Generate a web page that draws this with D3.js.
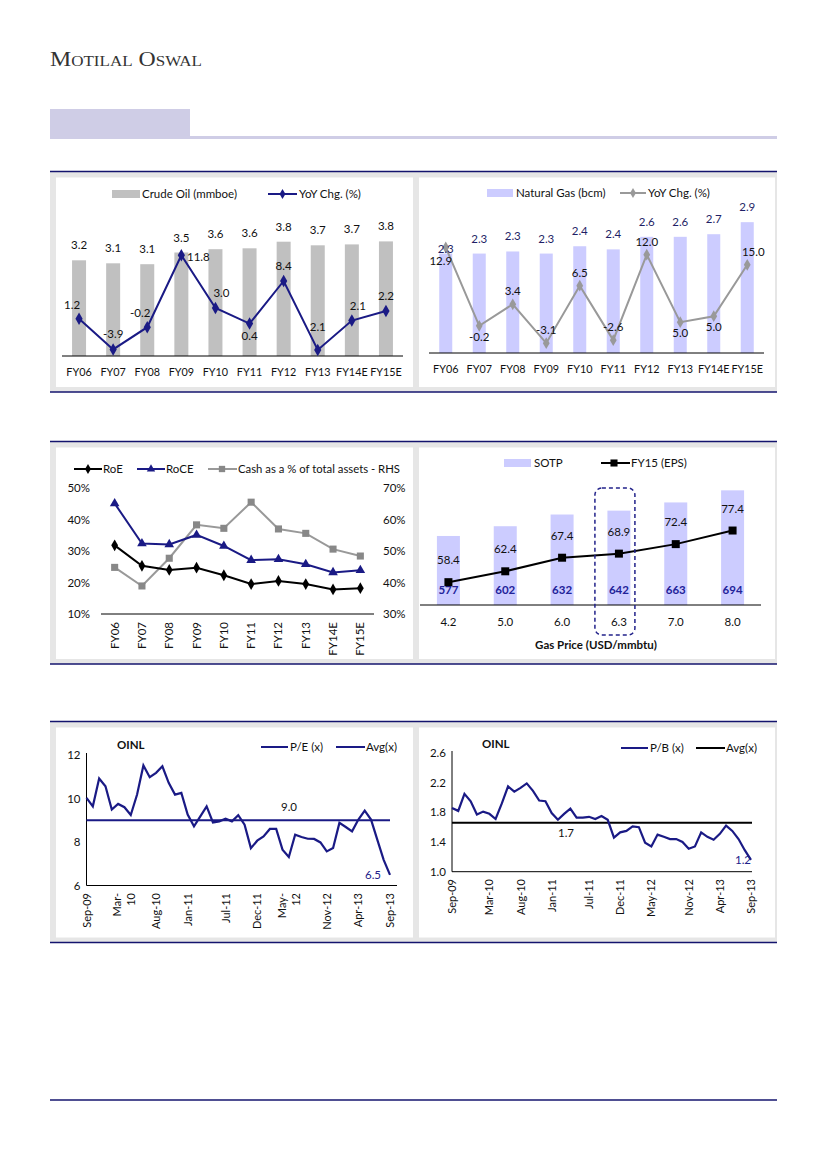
<!DOCTYPE html>
<html><head><meta charset="utf-8">
<script src="https://cdn.jsdelivr.net/npm/d3@7"></script>
<style>
body{margin:0;background:#fff}
svg{display:block}
text{font-family:Lato,"Open Sans",sans-serif;fill:#111}
</style>
</head><body>
<svg id="c" width="826" height="1169"></svg>
<script>
// ---------------- DATA ----------------
const fyCats = ["FY06","FY07","FY08","FY09","FY10","FY11","FY12","FY13","FY14E","FY15E"];
const crudeOil = [3.19,3.09,3.06,3.45,3.56,3.59,3.81,3.69,3.72,3.82];
const crudeYoY = [1.2,-3.9,-0.2,11.8,3.0,0.4,7.5,-4.0,0.9,2.5];
const crudeYoYLabels = ["1.2","-3.9","-0.2","11.8","3.0","0.4","8.4","2.1","2.1","2.2"];
const crudeYoYPlace = ["al","a","al","r","ar","b","a","a2","ar","a"];

const gasProd = [2.30,2.30,2.34,2.30,2.44,2.38,2.62,2.62,2.67,2.90];
const gasYoY = [12.9,-0.2,3.4,-3.1,6.5,-2.6,11.7,0.4,1.4,10.0];
const gasYoYLabels = ["12.9","-0.2","3.4","-3.1","6.5","-2.6","12.0","5.0","5.0","15.0"];
const gasYoYPlace = ["bl","b","a","a","a","a","a","b","b","ar"];

const roe = [31.8,25.3,24.0,24.7,22.3,19.5,20.5,19.5,17.8,18.2];
const roce = [45.1,32.4,32.1,35.1,31.6,27.1,27.4,25.8,23.2,23.9];
const cashPct = [44.8,38.9,47.7,58.3,57.2,65.5,57.0,55.6,50.6,48.4];
const leftPctTicks = [10,20,30,40,50];
const rightPctTicks = [30,40,50,60,70];

const gasPrice = ["4.2","5.0","6.0","6.3","7.0","8.0"];
const sotp = [577,602,632,642,663,694];
const epsFY15 = [58.4,62.4,67.4,68.9,72.4,77.4];
const highlightPrice = "6.3";

const monthLabels = ["Sep-09","Oct-09","Nov-09","Dec-09","Jan-10","Feb-10","Mar-10","Apr-10","May-10","Jun-10","Jul-10","Aug-10",
 "Sep-10","Oct-10","Nov-10","Dec-10","Jan-11","Feb-11","Mar-11","Apr-11","May-11","Jun-11","Jul-11","Aug-11",
 "Sep-11","Oct-11","Nov-11","Dec-11","Jan-12","Feb-12","Mar-12","Apr-12","May-12","Jun-12","Jul-12","Aug-12",
 "Sep-12","Oct-12","Nov-12","Dec-12","Jan-13","Feb-13","Mar-13","Apr-13","May-13","Jun-13","Jul-13","Aug-13","Sep-13"];
const tickMonths = ["Sep-09","Mar-10","Aug-10","Jan-11","Jul-11","Dec-11","May-12","Nov-12","Apr-13","Sep-13"];
const peTickText = ["Sep-09","Mar-|10","Aug-10","Jan-11","Jul-11","Dec-11","May-|12","Nov-12","Apr-13","Sep-13"];
const peValues = [10.03,9.64,10.92,10.56,9.49,9.75,9.6,9.24,10.18,11.52,10.98,11.18,11.48,10.72,10.18,10.26,9.26,8.72,9.18,9.64,
 8.90,8.95,9.07,8.95,9.23,8.80,7.72,8.06,8.26,8.6,8.6,7.65,7.31,8.34,8.23,8.15,8.14,7.98,7.57,7.72,
 8.88,8.69,8.49,9.03,9.44,9.03,8.1,7.18,6.49];
const peAvg = 9.0;
const peTicks = [6,8,10,12];
const pbValues = [1.86,1.82,2.05,1.95,1.77,1.81,1.78,1.71,1.92,2.15,2.08,2.13,2.19,2.09,1.96,1.95,1.79,1.70,1.78,1.85,
 1.73,1.73,1.74,1.71,1.75,1.70,1.46,1.53,1.55,1.61,1.60,1.39,1.34,1.50,1.47,1.44,1.44,1.40,1.31,1.34,
 1.53,1.47,1.43,1.51,1.62,1.55,1.44,1.29,1.16];
const pbAvg = 1.66;
const pbTicks = [1.0,1.4,1.8,2.2,2.6];

// ---------------- STYLE ----------------
const NAVY = "#14146e";
const LINE_NAVY = "#1a1a85";
const svg = d3.select("#c");
const F = 11.5;

function txt(g, x, y, s, o = {}) {
  const t = g.append("text").attr("x", x).attr("y", y).text(s)
    .style("font-size", (o.size || F) + "px")
    .attr("text-anchor", o.anchor || "start");
  if (o.fill) t.style("fill", o.fill);
  if (o.bold) t.style("font-weight", "bold");
  if (o.rotate) t.attr("transform", `rotate(-90,${x},${y})`);
  return t;
}
function hline(g, x1, x2, y, color, w) {
  g.append("line").attr("x1", x1).attr("x2", x2).attr("y1", y).attr("y2", y)
    .attr("stroke", color).attr("stroke-width", w);
}
function sym(g, type, size, x, y, fill) {
  g.append("path").attr("d", d3.symbol().type(type).size(size)())
    .attr("transform", `translate(${x},${y})`).attr("fill", fill);
}

// ---------------- PAGE FRAME ----------------
svg.append("text").attr("x", 50).attr("y", 66).text("Motilal Oswal")
  .style("font-family", "'Liberation Serif','DejaVu Serif',serif")
  .style("font-variant", "small-caps").style("font-size", "21px").style("fill", "#333")
  .attr("textLength", 152).attr("lengthAdjust", "spacingAndGlyphs");
svg.append("rect").attr("x", 50).attr("y", 109).attr("width", 140).attr("height", 28).attr("fill", "#cfcde6");
svg.append("rect").attr("x", 50).attr("y", 136).attr("width", 727).attr("height", 3).attr("fill", "#cfcde6");

function section(y0, y1) {
  svg.append("rect").attr("x", 50).attr("y", y0).attr("width", 727).attr("height", y1 - y0).attr("fill", "#e6e6e6");
  svg.append("rect").attr("x", 56).attr("y", y0 + 6).attr("width", 357).attr("height", y1 - y0 - 11).attr("fill", "#fff");
  svg.append("rect").attr("x", 419).attr("y", y0 + 6).attr("width", 356).attr("height", y1 - y0 - 11).attr("fill", "#fff");
  hline(svg, 50, 777, y0, NAVY, 1.5);
  hline(svg, 50, 777, y1, NAVY, 1.5);
}
section(171.5, 392);
section(441.5, 664);
section(721.5, 942.5);
hline(svg, 50, 777, 1100, NAVY, 1.5);

// ---------------- CHART 1: Crude oil ----------------
(function () {
  const g = svg.append("g");
  const x = d3.scaleBand().domain(fyCats).range([62, 403]);
  const cx = d => x(d) + x.bandwidth() / 2;
  const y = d3.scaleLinear().domain([0, 5]).range([356, 206]);
  const y2 = d3.scaleLinear().domain([-5, 20]).range([356, 206]);
  g.selectAll(".b").data(crudeOil).join("rect")
    .attr("x", (d, i) => cx(fyCats[i]) - 7).attr("width", 14)
    .attr("y", d => y(d)).attr("height", d => y(0) - y(d)).attr("fill", "#c0c0c0");
  crudeOil.forEach((d, i) => txt(g, cx(fyCats[i]), y(d) - 11, d3.format(".1f")(d), { anchor: "middle" }));
  hline(g, 62, 403, 356, "#000", 1);
  fyCats.forEach(c => txt(g, cx(c), 376, c, { anchor: "middle", size: 10.8 }));
  const line = d3.line().x((d, i) => cx(fyCats[i])).y(d => y2(d));
  g.append("path").datum(crudeYoY).attr("d", line).attr("fill", "none").attr("stroke", LINE_NAVY).attr("stroke-width", 2);
  crudeYoY.forEach((d, i) => sym(g, d3.symbolDiamond, 45, cx(fyCats[i]), y2(d), LINE_NAVY));
  const off = { a: [0, -11], a2: [0, -19], al: [-7, -10], ar: [6, -11], r: [17, 6], b: [0, 16], bl: [-5, 18] };
  crudeYoY.forEach((d, i) => {
    const o = off[crudeYoYPlace[i]];
    txt(g, cx(fyCats[i]) + o[0], y2(d) + o[1], crudeYoYLabels[i], { anchor: "middle" });
  });
  // legend
  g.append("rect").attr("x", 112).attr("y", 190).attr("width", 28).attr("height", 8).attr("fill", "#c0c0c0");
  txt(g, 142, 198, "Crude Oil (mmboe)");
  hline(g, 268, 297, 194, LINE_NAVY, 2);
  sym(g, d3.symbolDiamond, 30, 282.5, 194, LINE_NAVY);
  txt(g, 299, 198, "YoY Chg. (%)");
})();

// ---------------- CHART 2: Natural gas ----------------
(function () {
  const g = svg.append("g");
  const x = d3.scaleBand().domain(fyCats).range([429, 764]);
  const cx = d => x(d) + x.bandwidth() / 2;
  const y = d3.scaleLinear().domain([0.4, 3.4]).range([353, 196]);
  const y2 = d3.scaleLinear().domain([-5, 20]).range([354.5, 205]);
  g.selectAll(".b").data(gasProd).join("rect")
    .attr("x", (d, i) => cx(fyCats[i]) - 6.5).attr("width", 13)
    .attr("y", d => y(d)).attr("height", d => y(0.4) - y(d)).attr("fill", "#ccccff");
  hline(g, 429, 764, 353, "#000", 1);
  fyCats.forEach(c => txt(g, cx(c), 373, c, { anchor: "middle", size: 10.8 }));
  const line = d3.line().x((d, i) => cx(fyCats[i])).y(d => y2(d));
  g.append("path").datum(gasYoY).attr("d", line).attr("fill", "none").attr("stroke", "#999").attr("stroke-width", 2);
  gasYoY.forEach((d, i) => sym(g, d3.symbolDiamond, 40, cx(fyCats[i]), y2(d), "#999"));
  gasProd.forEach((d, i) => txt(g, cx(fyCats[i]), y(d) - (i === 0 ? 1 : 11), d3.format(".1f")(d), { anchor: "middle", fill: "#1f1f66" }));
  const off = { a: [0, -9], ar: [6, -9], b: [0, 15], bl: [-5, 18] };
  gasYoY.forEach((d, i) => {
    const o = off[gasYoYPlace[i]];
    txt(g, cx(fyCats[i]) + o[0], y2(d) + o[1], gasYoYLabels[i], { anchor: "middle" });
  });
  g.append("rect").attr("x", 487).attr("y", 189).attr("width", 26).attr("height", 8).attr("fill", "#ccccff");
  txt(g, 516, 197, "Natural Gas (bcm)");
  hline(g, 620, 646, 193, "#999", 2);
  sym(g, d3.symbolDiamond, 30, 633, 193, "#999");
  txt(g, 648, 197, "YoY Chg. (%)");
})();

// ---------------- CHART 3: Return ratios ----------------
(function () {
  const g = svg.append("g");
  const x = d3.scaleBand().domain(fyCats).range([101, 374]);
  const cx = d => x(d) + x.bandwidth() / 2;
  const yL = d3.scaleLinear().domain([10, 50]).range([614, 488]);
  const yR = d3.scaleLinear().domain([30, 70]).range([614, 488]);
  leftPctTicks.forEach(t => txt(g, 90, yL(t) + 4, t + "%", { anchor: "end" }));
  rightPctTicks.forEach(t => txt(g, 383, yR(t) + 4, t + "%"));
  hline(g, 101, 374, 614, "#000", 1);
  fyCats.forEach(c => txt(g, cx(c) + 4, 622, c, { anchor: "end", rotate: true }));
  const series = [
    { v: cashPct, s: yR, c: "#999", m: d3.symbolSquare, sz: 50, mc: "#888" },
    { v: roce, s: yL, c: LINE_NAVY, m: d3.symbolTriangle, sz: 40, mc: LINE_NAVY },
    { v: roe, s: yL, c: "#000", m: d3.symbolDiamond, sz: 40, mc: "#000" }
  ];
  series.forEach(S => {
    const line = d3.line().x((d, i) => cx(fyCats[i])).y(d => S.s(d));
    g.append("path").datum(S.v).attr("d", line).attr("fill", "none").attr("stroke", S.c).attr("stroke-width", 2);
    S.v.forEach((d, i) => sym(g, S.m, S.sz, cx(fyCats[i]), S.s(d), S.mc));
  });
  hline(g, 74, 102, 469, "#000", 2); sym(g, d3.symbolDiamond, 30, 88, 469, "#000");
  txt(g, 103, 473, "RoE");
  hline(g, 137, 165, 469, LINE_NAVY, 2); sym(g, d3.symbolTriangle, 30, 151, 469, LINE_NAVY);
  txt(g, 166, 473, "RoCE");
  hline(g, 208, 237, 469, "#999", 2); sym(g, d3.symbolSquare, 40, 222, 469, "#888");
  txt(g, 238, 473, "Cash as a % of total assets - RHS").attr("textLength", 162).attr("lengthAdjust", "spacingAndGlyphs");
})();

// ---------------- CHART 4: Sensitivity ----------------
(function () {
  const g = svg.append("g");
  const x = d3.scaleBand().domain(gasPrice).range([420, 761]);
  const cx = d => x(d) + x.bandwidth() / 2;
  const y = d3.scaleLinear().domain([400, 800]).range([605, 449]);
  const y2 = d3.scaleLinear().domain([50, 107.4]).range([605, 449]);
  g.selectAll(".b").data(sotp).join("rect")
    .attr("x", (d, i) => cx(gasPrice[i]) - 11.5).attr("width", 23)
    .attr("y", d => y(d)).attr("height", d => y(400) - y(d)).attr("fill", "#ccccff");
  sotp.forEach((d, i) => txt(g, cx(gasPrice[i]), 594, String(d), { anchor: "middle", bold: true, fill: "#222299" }));
  hline(g, 420, 761, 605, "#000", 1);
  gasPrice.forEach(c => txt(g, cx(c), 626, c, { anchor: "middle" }));
  txt(g, 596, 649, "Gas Price (USD/mmbtu)", { anchor: "middle", bold: true });
  const line = d3.line().x((d, i) => cx(gasPrice[i])).y(d => y2(d));
  g.append("path").datum(epsFY15).attr("d", line).attr("fill", "none").attr("stroke", "#000").attr("stroke-width", 2);
  epsFY15.forEach((d, i) => {
    sym(g, d3.symbolSquare, 64, cx(gasPrice[i]), y2(d), "#000");
    txt(g, cx(gasPrice[i]), y2(d) - 18, d3.format(".1f")(d), { anchor: "middle" });
  });
  const hx = cx(highlightPrice);
  g.append("rect").attr("x", hx - 24).attr("y", 488).attr("width", 40).attr("height", 147).attr("rx", 7)
    .attr("fill", "none").attr("stroke", "#22228a").attr("stroke-width", 1.5).attr("stroke-dasharray", "4,3");
  g.append("rect").attr("x", 504).attr("y", 459).attr("width", 27).attr("height", 8).attr("fill", "#ccccff");
  txt(g, 534, 467, "SOTP");
  hline(g, 601, 630, 463, "#000", 2); sym(g, d3.symbolSquare, 50, 614, 463, "#000");
  txt(g, 631, 467, "FY15 (EPS)");
})();

// ---------------- CHARTS 5 & 6: Valuation bands ----------------
function bandChart(o) {
  const g = svg.append("g");
  const x = d3.scaleLinear().domain([0, monthLabels.length - 1]).range([o.x0, o.x1]);
  const y = d3.scaleLinear().domain(o.dom).range([o.yb, o.yt]);
  g.append("line").attr("x1", o.x0).attr("x2", o.x0).attr("y1", o.yt - 2).attr("y2", o.yb).attr("stroke", "#000");
  hline(g, o.x0, o.xe, o.yb, "#000", 1);
  o.ticks.forEach(t => txt(g, o.x0 - 6, y(t) + 4, o.fmt(t), { anchor: "end" }));
  hline(g, o.x0, o.xa, y(o.avg), o.avgColor, 2);
  g.append("path").datum(o.vals).attr("d", d3.line().x((d, i) => x(i)).y(d => y(d)))
    .attr("fill", "none").attr("stroke", LINE_NAVY).attr("stroke-width", 2.2);
  tickMonths.forEach((m, k) => {
    const xi = x(monthLabels.indexOf(m));
    const parts = o.tickText[k].split("|");
    parts.forEach((p, j) => {
      const off = (j - (parts.length - 1) / 2) * 14;
      txt(g, xi + off + 4, o.labTop, p, { anchor: "end", rotate: true, size: 11 });
    });
  });
  txt(g, o.ox, o.oy, "OINL", { bold: true });
  hline(g, o.lg1[0], o.lg1[1], o.lgy, LINE_NAVY, 2);
  txt(g, o.lg1[1] + 2, o.lgy + 4, o.name);
  hline(g, o.lg2[0], o.lg2[1], o.lgy, o.avgColor, 2);
  txt(g, o.lg2[1] + 1, o.lgy + 4, "Avg(x)");
  txt(g, o.avgLab[0], o.avgLab[1], d3.format(".1f")(o.avg), { anchor: "middle" });
  txt(g, o.lastLab[0], o.lastLab[1], d3.format(".1f")(o.vals[o.vals.length - 1]), { anchor: "middle", fill: "#22228a" });
}
bandChart({ x0: 86.5, x1: 390, xe: 397, xa: 390, yb: 885.5, yt: 755, dom: [6, 12], ticks: peTicks, fmt: d => String(d),
  vals: peValues, avg: peAvg, avgColor: LINE_NAVY, tickText: peTickText, labTop: 893,
  ox: 117, oy: 749, lgy: 747, lg1: [261, 288], lg2: [336, 365], name: "P/E (x)", avgLab: [289, 811], lastLab: [373, 879] });
bandChart({ x0: 452, x1: 751, xe: 752, xa: 752, yb: 871.7, yt: 753, dom: [1.0, 2.6], ticks: pbTicks, fmt: d3.format(".1f"),
  vals: pbValues, avg: pbAvg, avgColor: "#000", tickText: tickMonths, labTop: 879,
  ox: 482, oy: 748, lgy: 748, lg1: [621, 648], lg2: [696, 725], name: "P/B (x)", avgLab: [566, 837], lastLab: [743, 864] });
</script>
</body></html>
